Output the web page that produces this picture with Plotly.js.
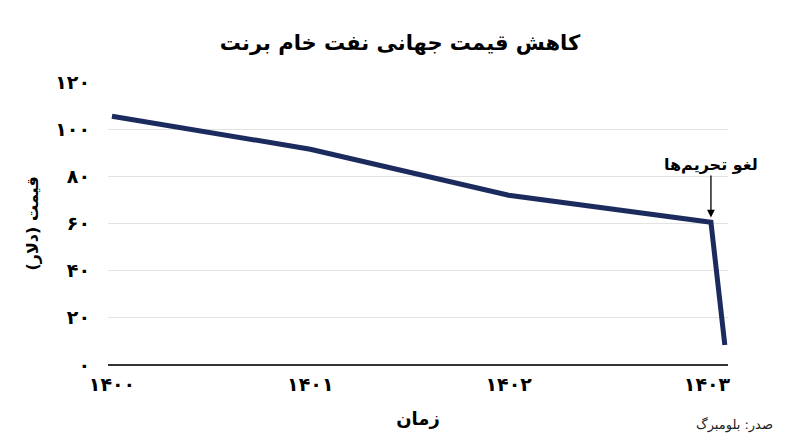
<!DOCTYPE html>
<html><head><meta charset="utf-8">
<script src="https://cdn.plot.ly/plotly-3.0.1.min.js"></script>
<style>html,body{margin:0;padding:0;background:#fff}#c{width:800px;height:447px}</style>
</head><body><div id="c"></div>
<script>
const years = [1400, 1401, 1402, 1403.02, 1403.09];
const prices = [105.5, 91.5, 72, 60.5, 8.5];
const xTickVals = [1400, 1401, 1402, 1403];
const xTickText = ['۱۴۰۰', '۱۴۰۱', '۱۴۰۲', '۱۴۰۳'];
const yTickVals = [0, 20, 40, 60, 80, 100, 120];
const yTickText = ['۰', '۲۰', '۴۰', '۶۰', '۸۰', '۱۰۰', '۱۲۰'];
const titleText = 'کاهش قیمت جهانی نفت خام برنت';
const xTitle = 'زمان';
const yTitle = 'قیمت (دلار)';
const noteText = 'لغو تحریم‌ها';
const sourceText = 'صدر: بلومبرگ';
const F = 'DejaVu Sans, sans-serif';

Plotly.newPlot('c', [{
  x: years, y: prices, type: 'scatter', mode: 'lines',
  line: {color: '#1b2b5e', width: 5}, hoverinfo: 'skip'
}], {
  width: 800, height: 447,
  margin: {l: 108, r: 72, t: 82, b: 82},
  paper_bgcolor: '#fff', plot_bgcolor: '#fff',
  showlegend: false,
  title: {text: '<b>' + titleText + '</b>', x: 0.5, xanchor: 'center', y: 0.905, yanchor: 'middle',
          font: {family: F, size: 21, color: '#000'}},
  xaxis: {range: [1399.98, 1403.106], tickvals: xTickVals, ticktext: xTickText,
          showgrid: false, zeroline: false, showline: false, ticks: '', ticklabelstandoff: 6,
          tickfont: {family: F, size: 19, color: '#000', weight: 'bold'},
          title: {text: '<b>' + xTitle + '</b>', font: {family: F, size: 18, color: '#000'}, standoff: 18}},
  yaxis: {range: [0, 120], tickvals: yTickVals, ticktext: yTickText,
          showgrid: true, gridcolor: '#e3e3e3', gridwidth: 1,
          zeroline: true, zerolinecolor: '#333', zerolinewidth: 1.3,
          showline: false, ticks: '', ticklabelstandoff: 17,
          tickfont: {family: F, size: 19, color: '#000', weight: 'bold'},
          title: {text: '<b>' + yTitle + '</b>', font: {family: F, size: 16, color: '#000'}, standoff: 12}},
  annotations: [
    {x: years[3], y: prices[3] + 2, xref: 'x', yref: 'y', text: '<b>' + noteText + '</b>',
     showarrow: true, arrowhead: 2, arrowsize: 1.2, arrowwidth: 1.3, arrowcolor: '#000',
     ax: 0, ay: -42, font: {family: F, size: 16, color: '#000'}, yanchor: 'bottom'},
    {x: 1.076, y: -0.212, xref: 'paper', yref: 'paper', xanchor: 'right', yanchor: 'middle',
     text: sourceText, showarrow: false, font: {family: F, size: 13, color: '#222'}}
  ]
}, {displayModeBar: false, staticPlot: true});
</script></body></html>
